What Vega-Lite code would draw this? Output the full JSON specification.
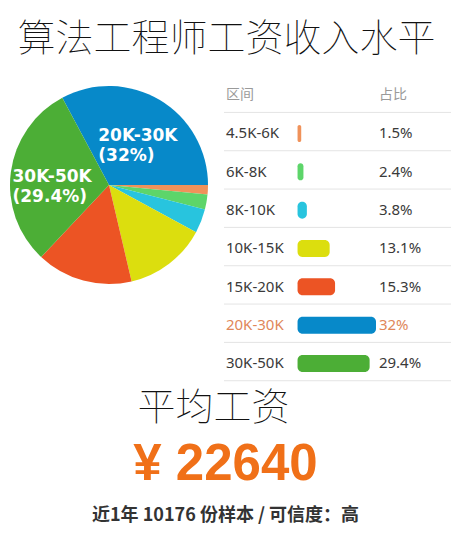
{
  "$schema": "https://vega.github.io/schema/vega-lite/v6.json",
  "padding": 0,
  "background": "white",
  "config": {"view": {"stroke": null}},
  "datasets": {
    "salary": [
      {"range": "4.5K-6K", "pct": 1.5},
      {"range": "6K-8K", "pct": 2.4},
      {"range": "8K-10K", "pct": 3.8},
      {"range": "10K-15K", "pct": 13.1},
      {"range": "15K-20K", "pct": 15.3},
      {"range": "20K-30K", "pct": 32},
      {"range": "30K-50K", "pct": 29.4}
    ],
    "header": [{"range": "区间", "ratio": "占比"}],
    "titleRow": [{"text": "算法工程师工资收入水平"}],
    "summary": [
      {"line": "a", "text": "平均工资"},
      {"line": "b", "text": "¥ 22640"},
      {"line": "c", "text": "近1年 10176 份样本 / 可信度：高"}
    ]
  },
  "spacing": 0,
  "vconcat": [
    {
      "width": 451,
      "height": 76,
      "data": {"name": "titleRow"},
      "mark": {"type": "text", "baseline": "middle", "font": "Noto Sans CJK SC", "fontSize": 38, "fontWeight": 100, "color": "#111111", "dy": 1.5, "dx": 1},
      "encoding": {"text": {"field": "text"}}
    },
    {
      "spacing": 5,
      "hconcat": [
        {
          "width": 218,
          "height": 218,
          "data": {"name": "salary"},
          "transform": [
            {"calculate": "indexof(['4.5K-6K','6K-8K','8K-10K','10K-15K','15K-20K','30K-50K','20K-30K'], datum.range)", "as": "pieOrder"},
            {"calculate": "datum.range + '\\n(' + datum.pct + '%)'", "as": "label"}
          ],
          "encoding": {
            "theta": {"field": "pct", "type": "quantitative", "stack": true, "scale": {"range": [1.5708, 7.854]}},
            "order": {"field": "pieOrder", "type": "quantitative"}
          },
          "layer": [
            {
              "mark": {"type": "arc", "outerRadius": 99},
              "encoding": {
                "color": {"field": "range", "type": "nominal", "legend": null,
                  "scale": {"domain": ["4.5K-6K", "6K-8K", "8K-10K", "10K-15K", "15K-20K", "20K-30K", "30K-50K"],
                            "range": ["#f0925a", "#5dd56a", "#28c4de", "#dcde0e", "#ec5424", "#0789c9", "#4cae36"]}}
              }
            },
            {
              "mark": {"type": "text", "radius": 57, "align": "left", "dx": -40, "baseline": "middle", "font": "DejaVu Sans", "fontWeight": "bold", "fontSize": 17, "lineHeight": 20, "lineBreak": "\n"},
              "encoding": {
                "color": {"value": "white"},
                "text": {"condition": {"test": "datum.pct > 20", "field": "label"}, "value": ""}
              }
            }
          ]
        },
        {
          "width": 228,
          "height": {"step": 38.33},
          "encoding": {
            "y": {"field": "range", "type": "nominal", "axis": null,
              "scale": {"domain": ["区间", "4.5K-6K", "6K-8K", "8K-10K", "10K-15K", "15K-20K", "20K-30K", "30K-50K"], "paddingInner": 0, "paddingOuter": 0}}
          },
          "layer": [
            {
              "data": {"name": "header"},
              "layer": [
                {
                  "mark": {"type": "text", "align": "left", "baseline": "middle", "font": "Noto Sans CJK SC", "fontSize": 14, "color": "#9a9a9a"},
                  "encoding": {"x": {"datum": -29.2, "type": "quantitative", "scale": {"domain": [-30, 63], "nice": false, "zero": false}, "axis": null}, "text": {"field": "range"}}
                },
                {
                  "mark": {"type": "text", "align": "left", "baseline": "middle", "font": "Noto Sans CJK SC", "fontSize": 14, "color": "#9a9a9a"},
                  "encoding": {"x": {"datum": 33.2, "type": "quantitative"}, "text": {"field": "ratio"}}
                },
                {
                  "mark": {"type": "rule", "color": "#e4e4e4", "strokeWidth": 1},
                  "encoding": {"y": {"field": "range", "type": "nominal", "bandPosition": 0.95}}
                }
              ]
            },
            {
              "data": {"name": "salary"},
              "transform": [{"calculate": "datum.pct + '%'", "as": "pctText"}],
              "layer": [
                {
                  "mark": {"type": "rule", "color": "#e4e4e4", "strokeWidth": 1},
                  "encoding": {"y": {"field": "range", "type": "nominal", "bandPosition": 0.95}}
                },
                {
                  "mark": {"type": "bar", "height": 17, "cornerRadius": 5},
                  "encoding": {
                    "x": {"field": "pct", "type": "quantitative"},
                    "x2": {"datum": 0},
                    "color": {"field": "range", "type": "nominal", "legend": null,
                      "scale": {"domain": ["4.5K-6K", "6K-8K", "8K-10K", "10K-15K", "15K-20K", "20K-30K", "30K-50K"],
                                "range": ["#f0925a", "#5dd56a", "#28c4de", "#dcde0e", "#ec5424", "#0789c9", "#4cae36"]}}
                  }
                },
                {
                  "mark": {"type": "text", "align": "left", "baseline": "middle", "font": "Noto Sans", "fontSize": 15},
                  "encoding": {
                    "x": {"datum": -29.2, "type": "quantitative"},
                    "text": {"field": "range"},
                    "color": {"condition": {"test": "datum.range === '20K-30K'", "value": "#e0875a"}, "value": "#3a3a3a"}
                  }
                },
                {
                  "mark": {"type": "text", "align": "left", "baseline": "middle", "font": "Noto Sans", "fontSize": 15},
                  "encoding": {
                    "x": {"datum": 33.2, "type": "quantitative"},
                    "text": {"field": "pctText"},
                    "color": {"condition": {"test": "datum.range === '20K-30K'", "value": "#e0875a"}, "value": "#3a3a3a"}
                  }
                }
              ]
            }
          ]
        }
      ]
    },
    {
      "width": 451,
      "height": 156,
      "data": {"name": "summary"},
      "encoding": {
        "y": {"field": "line", "type": "nominal", "axis": null, "scale": {"type": "band", "domain": ["a", "b", "c"], "paddingInner": 0, "paddingOuter": 0}},
        "text": {"field": "text"}
      },
      "layer": [
        {
          "transform": [{"filter": "datum.line == 'a'"}],
          "mark": {"type": "text", "baseline": "middle", "font": "Noto Sans CJK SC", "fontSize": 38, "fontWeight": 100, "color": "#111111", "dx": -12}
        },
        {
          "transform": [{"filter": "datum.line == 'b'"}],
          "mark": {"type": "text", "baseline": "middle", "font": "Liberation Sans", "fontWeight": "bold", "fontSize": 51, "color": "#f07018", "dy": 4}
        },
        {
          "transform": [{"filter": "datum.line == 'c'"}],
          "mark": {"type": "text", "baseline": "middle", "font": "Noto Sans CJK SC", "fontWeight": "bold", "fontSize": 18, "color": "#333333", "dy": 3}
        }
      ]
    }
  ]
}
